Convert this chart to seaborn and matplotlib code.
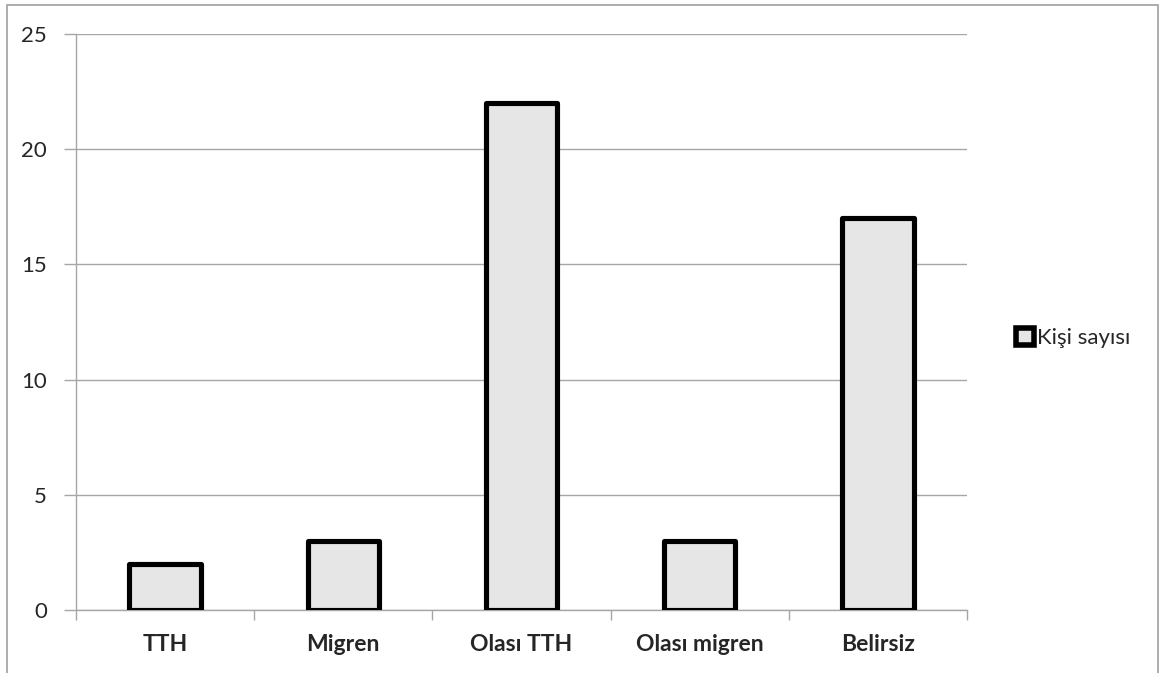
import pandas as pd
import seaborn as sns
import matplotlib.pyplot as plt
from matplotlib.patches import Rectangle

categories = ['TTH', 'Migren', 'Olası TTH', 'Olası migren', 'Belirsiz']
counts = [2, 3, 22, 3, 17]
series_name = 'Kişi sayısı'
y_ticks = [0, 5, 10, 15, 20, 25]

df = pd.DataFrame({'Tanı': categories, 'Sayı': counts})

sns.set_style('white')
plt.rcParams['font.family'] = ['Lato', 'DejaVu Sans']

fig = plt.figure(figsize=(11.6, 6.73), dpi=100)
ax = fig.add_axes([76 / 1160, 1 - 610 / 673, 891 / 1160, 576 / 673])

grid_col = '#a6a6a6'

sns.barplot(data=df, x='Tanı', y='Sayı', ax=ax, color='#e6e6e6',
            edgecolor='black', linewidth=3.7, width=0.4, label=series_name,
            zorder=3)
for p in ax.patches:
    p.set_joinstyle('round')

ax.set_ylim(0, 25)
ax.set_xlim(-0.5, len(categories) - 0.5)
ax.set_yticks(y_ticks)
ax.yaxis.grid(True, color=grid_col, linewidth=1.0, zorder=0)
ax.set_axisbelow(True)

ax.set_xlabel('')
ax.set_ylabel('')

# category boundary ticks like Excel
ax.set_xticks(range(len(categories)))
ax.set_xticks([i - 0.5 for i in range(len(categories) + 1)], minor=True)
ax.tick_params(axis='x', which='major', length=0, pad=17, labelsize=16.5)
ax.tick_params(axis='x', which='minor', length=7, width=1, color=grid_col,
               direction='out', bottom=True)
ax.tick_params(axis='y', length=9, width=1, color=grid_col, direction='out',
               left=True, pad=12, labelsize=16)
for lbl in ax.get_xticklabels():
    lbl.set_fontweight('bold')

for side in ['top', 'right']:
    ax.spines[side].set_visible(False)
for side in ['left', 'bottom']:
    ax.spines[side].set_color(grid_col)
    ax.spines[side].set_linewidth(1.0)

leg = ax.legend(loc='center left', bbox_to_anchor=(996 / 1160, 1 - 338 / 673),
                bbox_transform=fig.transFigure, frameon=False, fontsize=16,
                handlelength=0.8, handleheight=0.8, handletextpad=0.15)
for h in leg.legend_handles:
    h.set_linewidth(4.0)

# chart area border
fig.patches.append(Rectangle((7 / 1160, -0.05), 1151 / 1160, 1.05 - 5 / 673,
                             transform=fig.transFigure, fill=False,
                             edgecolor='#a0a0a0', linewidth=1.2))

fig.savefig('out.png', dpi=100)
